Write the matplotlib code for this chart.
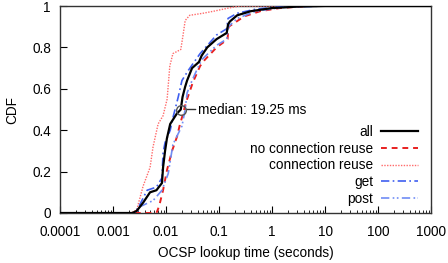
import matplotlib
matplotlib.use("Agg")
import matplotlib.pyplot as plt
from matplotlib.ticker import LogLocator, NullFormatter, FixedLocator

plt.rcParams['font.family'] = ['Liberation Sans', 'DejaVu Sans']
plt.rcParams['font.size'] = 9.8

# --- data (seconds, cumulative fraction) ---
all_x = [1e-4, 0.0023, 0.0028, 0.0037, 0.005, 0.0066, 0.0084, 0.0088, 0.0096, 0.0104, 0.012,
         0.016, 0.019, 0.0205, 0.023, 0.025, 0.031, 0.038, 0.042, 0.047, 0.06, 0.09, 0.14,
         0.148, 0.16, 0.22, 0.4, 1.0, 3, 10, 1000]
all_y = [0, 0, 0.01, 0.05, 0.10, 0.11, 0.145, 0.22, 0.30, 0.36, 0.43,
         0.48, 0.50, 0.56, 0.61, 0.64, 0.70, 0.72, 0.73, 0.76, 0.80, 0.84, 0.87,
         0.91, 0.925, 0.955, 0.975, 0.99, 0.997, 1, 1]

noreuse_x = [1e-4, 0.0066, 0.0071, 0.0077, 0.0088, 0.0105, 0.013, 0.0162, 0.018, 0.021, 0.023,
             0.025, 0.032, 0.044, 0.054, 0.09, 0.13, 0.145, 0.152, 0.2, 0.3, 0.6, 1.4, 5, 1000]
noreuse_y = [0, 0, 0.02, 0.05, 0.11, 0.21, 0.30, 0.37, 0.42, 0.48, 0.52,
             0.55, 0.63, 0.71, 0.74, 0.80, 0.83, 0.84, 0.90, 0.92, 0.95, 0.975, 0.99, 1, 1]

reuse_x = [1e-4, 0.0022, 0.0028, 0.0037, 0.005, 0.0057, 0.0071, 0.0088, 0.0105, 0.0118, 0.0135,
           0.019, 0.021, 0.023, 0.028, 0.05, 0.08, 0.15, 0.25, 1000]
reuse_y = [0, 0, 0.015, 0.13, 0.22, 0.32, 0.43, 0.47, 0.55, 0.71, 0.77,
           0.79, 0.86, 0.93, 0.955, 0.965, 0.975, 0.99, 1, 1]

get_x = [1e-4, 0.0026, 0.0032, 0.0044, 0.0066, 0.0084, 0.0088, 0.0096, 0.012, 0.0135, 0.017,
         0.02, 0.025, 0.032, 0.044, 0.09, 0.14, 0.148, 0.22, 0.5, 1.5, 10, 1000]
get_y = [0, 0, 0.04, 0.11, 0.125, 0.17, 0.29, 0.34, 0.40, 0.46, 0.56,
         0.64, 0.68, 0.72, 0.77, 0.86, 0.89, 0.94, 0.965, 0.985, 0.997, 1, 1]

post_x = [1e-4, 0.0028, 0.0032, 0.0057, 0.0084, 0.011, 0.0135, 0.016, 0.02, 0.023, 0.025,
          0.031, 0.038, 0.047, 0.09, 0.14, 0.15, 0.22, 0.5, 1.5, 10, 1000]
post_y = [0, 0, 0.03, 0.06, 0.11, 0.19, 0.33, 0.37, 0.42, 0.50, 0.58,
          0.64, 0.69, 0.74, 0.81, 0.84, 0.90, 0.94, 0.975, 0.993, 1, 1]

median_x = 0.01925
median_y = 0.5
median_label = "median: 19.25 ms"

xticks = [1e-4, 1e-3, 1e-2, 1e-1, 1, 10, 100, 1000]
xticklabels = ["0.0001", "0.001", "0.01", "0.1", "1", "10", "100", "1000"]
yticks = [0, 0.2, 0.4, 0.6, 0.8, 1]
yticklabels = ["0", "0.2", "0.4", "0.6", "0.8", "1"]

fig = plt.figure(figsize=(4.48, 2.63), dpi=100)
ax = fig.add_axes([60/448, 1-213/263, 371/448, 207/263])

ax.plot(all_x, all_y, color='black', lw=1.6, label='all', zorder=5)
ax.plot(noreuse_x, noreuse_y, color='#e82020', lw=1.4, ls=(0, (3, 2.5)), label='no connection reuse', zorder=4)
ax.plot(reuse_x, reuse_y, color='#ff6a6a', lw=1.0, ls=(0, (1, 1)), label='connection reuse', zorder=3)
ax.plot(get_x, get_y, color='#3f5ff0', lw=1.2, ls=(0, (5, 2, 1, 2)), label='get', zorder=4)
ax.plot(post_x, post_y, color='#6f8cf5', lw=1.2, ls=(0, (5, 2, 1, 1.5, 1, 2)), label='post', zorder=4)

ax.plot([median_x], [median_y], marker='o', ms=7, mfc='none', mec='#555555', mew=1.0, zorder=6)
ax.annotate(median_label, xy=(median_x, median_y), xytext=(12.5, 0), textcoords='offset points',
            va='center', ha='left',
            arrowprops=dict(arrowstyle='-', color='#333333', lw=1.0, shrinkA=0, shrinkB=3.5))

ax.set_xscale('log')
ax.set_xlim(1e-4, 1000)
ax.set_ylim(0, 1)
ax.xaxis.set_major_locator(FixedLocator(xticks))
ax.set_xticklabels(xticklabels)
ax.xaxis.set_minor_locator(LogLocator(base=10, subs=range(2, 10), numticks=20))
ax.xaxis.set_minor_formatter(NullFormatter())
ax.set_yticks(yticks)
ax.set_yticklabels(yticklabels)

ax.tick_params(axis='both', which='both', direction='in', top=False, right=False, pad=6)
ax.tick_params(axis='x', which='major', length=5, width=0.8)
ax.tick_params(axis='x', which='minor', length=2.5, width=0.6)
ax.tick_params(axis='y', which='major', length=5, width=0.8)
ax.tick_params(axis='x', pad=8.5)
ax.tick_params(axis='y', pad=6.5)
for sp in ax.spines.values():
    sp.set_linewidth(1.0)
    sp.set_color('#333333')

ax.set_xlabel("OCSP lookup time (seconds)", labelpad=5)
ax.set_ylabel("CDF", labelpad=9)

leg = ax.legend(loc='lower right', bbox_to_anchor=((418-60)/371, 0.035), frameon=False,
                markerfirst=False, borderaxespad=0, borderpad=0, handlelength=2.7,
                handletextpad=0.6, labelspacing=0.2)
for vp in leg._legend_handle_box.get_children():
    vp.align = 'right'

fig.savefig('out.png', dpi=100)
